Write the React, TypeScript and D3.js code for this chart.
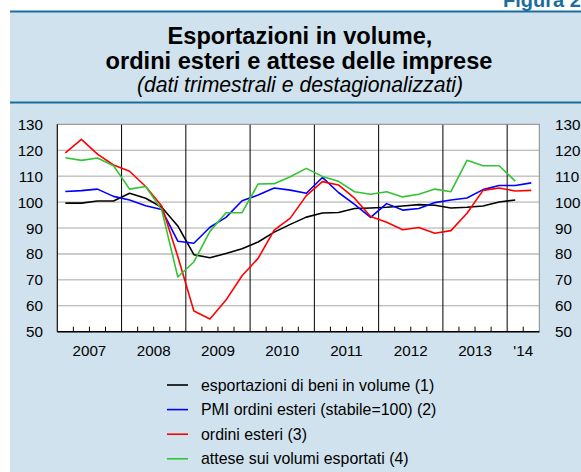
import { useEffect } from "react";
import * as d3 from "d3";

const WIDTH = 581;
const HEIGHT = 472;
const PLOT = { left: 57.3, right: 539.3, top: 124.3, bottom: 331.7 };
const FONT = "'Liberation Sans', Arial, Helvetica, sans-serif";

// quarterly values, 2007Q1 onwards
const esportazioni = [99.6, 99.6, 100.4, 100.4, 103.4, 101.5, 98.0, 90.8, 79.7, 78.5, 80.2, 82.0, 84.6, 88.4, 91.4, 94.2, 95.8, 96.0, 97.5, 97.7, 98.0, 98.5, 99.0, 98.8, 97.7, 98.0, 98.5, 100.0, 100.8];
const pmiOrdini = [104.1, 104.4, 105.0, 102.2, 100.8, 98.6, 97.1, 84.9, 84.1, 90.3, 94.1, 100.5, 102.7, 105.4, 104.6, 103.4, 109.5, 103.7, 99.1, 94.1, 99.4, 96.9, 97.5, 99.8, 100.8, 101.6, 104.8, 106.4, 106.4, 107.4];
const ordiniEsteri = [119.0, 124.2, 118.5, 114.3, 111.9, 106.0, 98.5, 79.0, 58.0, 54.9, 62.2, 71.6, 78.3, 89.2, 93.8, 102.5, 107.9, 106.6, 101.5, 94.4, 92.2, 89.3, 90.2, 88.0, 89.0, 95.7, 104.5, 105.4, 104.3, 104.5];
const attese = [117.1, 116.1, 117.0, 114.0, 105.0, 106.0, 97.0, 71.1, 76.9, 88.7, 95.9, 95.9, 107.0, 107.1, 109.8, 113.0, 109.9, 108.0, 104.0, 103.0, 104.0, 102.0, 103.0, 105.0, 104.0, 116.1, 114.0, 114.0, 108.1];

const yearLabels = ["2007", "2008", "2009", "2010", "2011", "2012", "2013", "'14"];
const yTicks = [50, 60, 70, 80, 90, 100, 110, 120, 130];
const N_QUARTERS = 30;

const series = [
  { name: "esportazioni di beni in volume (1)", values: esportazioni, color: "#000000" },
  { name: "PMI ordini esteri (stabile=100) (2)", values: pmiOrdini, color: "#0000ff" },
  { name: "ordini esteri (3)", values: ordiniEsteri, color: "#ff0000" },
  { name: "attese sui volumi esportati (4)", values: attese, color: "#33c433" },
];

export default function App() {
  useEffect(() => {
    document.body.style.margin = "0";
  }, []);

  const x = d3.scaleLinear().domain([0, N_QUARTERS]).range([PLOT.left, PLOT.right]);
  const y = d3.scaleLinear().domain([50, 130]).range([PLOT.bottom, PLOT.top]);

  const line = d3
    .line<number>()
    .x((d, i) => x(i + 0.5))
    .y((d) => y(d));

  const quarterTicks = d3.range(1, N_QUARTERS).filter((q) => q % 4 !== 0);
  const yearLines = d3.range(4, N_QUARTERS, 4);

  return (
    <svg width={WIDTH} height={HEIGHT} style={{ display: "block", fontFamily: FONT }}>
      <rect x={0} y={0} width={WIDTH} height={HEIGHT} fill="#ffffff" />
      <rect x={10} y={12} width={WIDTH - 10} height={HEIGHT - 12} fill="#d0e2ed" />
      <text x={503} y={7} fontSize={20} fontWeight="bold" fill="#1b6e9b">Figura 2</text>
      <line x1={10} x2={WIDTH} y1={11.5} y2={11.5} stroke="#1b6e9b" strokeWidth={2} />
      <line x1={10} x2={WIDTH} y1={102.5} y2={102.5} stroke="#1b6e9b" strokeWidth={2} />

      <text x={300} y={44} textAnchor="middle" fontSize={23.6} fontWeight="bold">Esportazioni in volume,</text>
      <text x={299} y={69} textAnchor="middle" fontSize={23.6} fontWeight="bold">ordini esteri e attese delle imprese</text>
      <text x={300} y={91.5} textAnchor="middle" fontSize={21.2} fontStyle="italic">(dati trimestrali e destagionalizzati)</text>

      <rect x={PLOT.left} y={PLOT.top} width={PLOT.right - PLOT.left} height={PLOT.bottom - PLOT.top} fill="#ffffff" />

      {yTicks.slice(1, -1).map((t) => (
        <line
          key={t}
          x1={PLOT.left}
          x2={PLOT.right}
          y1={y(t)}
          y2={y(t)}
          stroke={t === 80 ? "#cccccc" : "#a8a8a8"}
          strokeWidth={t === 80 ? 2 : 1}
        />
      ))}

      {yearLines.map((q) => (
        <line key={q} x1={x(q)} x2={x(q)} y1={PLOT.top} y2={PLOT.bottom} stroke="#000" strokeWidth={1} />
      ))}
      {quarterTicks.map((q) => (
        <line key={q} x1={x(q)} x2={x(q)} y1={PLOT.bottom - 5} y2={PLOT.bottom} stroke="#000" strokeWidth={1} />
      ))}

      <rect
        x={PLOT.left}
        y={PLOT.top}
        width={PLOT.right - PLOT.left}
        height={PLOT.bottom - PLOT.top}
        fill="none"
        stroke="#888"
        strokeWidth={1}
      />
      <line x1={PLOT.left} x2={PLOT.left} y1={PLOT.top} y2={PLOT.bottom} stroke="#000" strokeWidth={1} />
      <line x1={PLOT.left} x2={PLOT.right} y1={PLOT.bottom} y2={PLOT.bottom} stroke="#000" strokeWidth={1.5} />

      {series.map((s) => (
        <path key={s.name} d={line(s.values) ?? ""} fill="none" stroke={s.color} strokeWidth={1.6} strokeLinejoin="round" />
      ))}

      {yTicks.map((t) => (
        <g key={t} fontSize={15.2}>
          <text x={43} y={y(t)} textAnchor="end" dominantBaseline="central">{t}</text>
          <text x={555} y={y(t)} dominantBaseline="central">{t}</text>
        </g>
      ))}

      {yearLabels.map((lab, i) => {
        const start = i * 4;
        const end = Math.min(start + 4, N_QUARTERS);
        return (
          <text key={lab} x={x((start + end) / 2)} y={356} textAnchor="middle" fontSize={15.2}>
            {lab}
          </text>
        );
      })}

      {series.map((s, i) => (
        <g key={s.name} transform={`translate(0, ${385 + i * 24.6})`}>
          <line x1={167} x2={188} y1={0} y2={0} stroke={s.color} strokeWidth={1.6} />
          <text x={201} y={0} dominantBaseline="central" fontSize={15.9}>{s.name}</text>
        </g>
      ))}
    </svg>
  );
}
